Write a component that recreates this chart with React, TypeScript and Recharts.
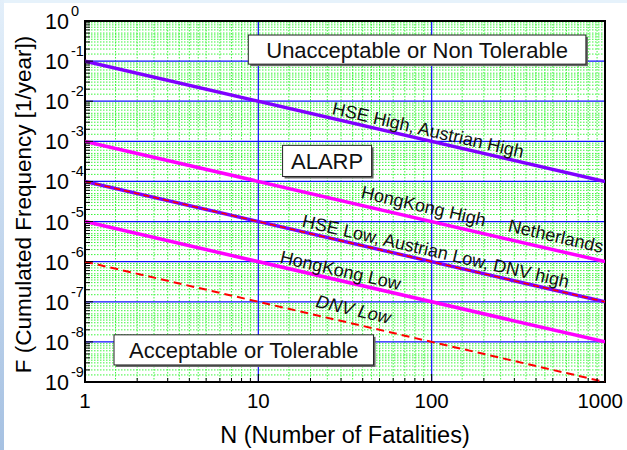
import React from 'react';
import {
  ComposedChart,
  Line,
  XAxis,
  YAxis,
  CartesianGrid,
  ReferenceArea,
  ReferenceDot,
} from 'recharts';

// ---------- data ----------
const xMajorTicks = [1, 10, 100, 1000];
const yMajorTicks = [1e-9, 1e-8, 1e-7, 1e-6, 1e-5, 1e-4, 1e-3, 1e-2, 1e-1, 1e0];
const tickMultipliers = [2, 3, 4, 5, 6, 7, 8, 9];
const gridMultipliers = [1.5, 2, 2.5, 3, 3.5, 4, 4.5, 5, 6, 7, 8, 9];

const hseHigh = [
  { n: 1, f: 1e-1 },
  { n: 1000, f: 1e-4 },
];
const hongKongHigh = [
  { n: 1, f: 1e-3 },
  { n: 1000, f: 1e-6 },
];
const hseLow = [
  { n: 1, f: 1e-4 },
  { n: 1000, f: 1e-7 },
];
const dnvHigh = [
  { n: 1, f: 1e-4 },
  { n: 1000, f: 1e-7 },
];
const hongKongLow = [
  { n: 1, f: 1e-5 },
  { n: 1000, f: 1e-8 },
];
const dnvLow = [
  { n: 1, f: 1e-6 },
  { n: 1000, f: 1e-9 },
];

const lineLabels = [
  { text: 'HSE High, Austrian High', n: 95.5, f: 1.9e-3, italic: false },
  { text: 'HongKong High', n: 89.9, f: 2.4e-5, italic: false },
  { text: 'Netherlands', n: 520, f: 4.3e-6, italic: false },
  { text: 'HSE Low, Austrian Low, DNV high', n: 105.5, f: 1.8e-6, italic: false },
  { text: 'HongKong Low', n: 29.8, f: 6.0e-7, italic: false },
  { text: 'DNV Low', n: 35.4, f: 6.4e-8, italic: true },
];

const zoneBoxes = [
  { text: 'Unacceptable or Non Tolerable', n1: 8.75, n2: 776, f1: 0.0841, f2: 0.447 },
  { text: 'ALARP', n1: 13.8, n2: 45.0, f1: 1.33e-4, f2: 7.94e-4 },
  { text: 'Acceptable or Tolerable', n1: 1.47, n2: 46.2, f1: 2.66e-9, f2: 1.5e-8 },
];

const xTitle = 'N (Number of Fatalities)';
const yTitle = 'F (Cumulated Frequency [1/year])';

// ---------- derived tick / grid lists ----------
const decadesX = xMajorTicks.slice(0, -1);
const decadesY = yMajorTicks.slice(0, -1);
const xAllTicks = [...xMajorTicks, ...decadesX.flatMap((d) => tickMultipliers.map((m) => d * m))];
const yAllTicks = [...yMajorTicks, ...decadesY.flatMap((d) => tickMultipliers.map((m) => d * m))];
const xGridMinor = decadesX.flatMap((d) => gridMultipliers.map((m) => d * m));
const yGridMinor = decadesY.flatMap((d) => gridMultipliers.map((m) => d * m));
const xMajorSet = new Set(xMajorTicks);
const yMajorSet = new Set(yMajorTicks);
const xLastTick = xMajorTicks[xMajorTicks.length - 1];

const FONT = '"Liberation Sans", Arial, Helvetica, sans-serif';

const YTick = (props: any) => {
  const { x, y, payload } = props;
  const v = payload.value;
  const major = yMajorSet.has(v);
  const len = major ? 8 : 5;
  const exp = Math.round(Math.log10(v));
  return (
    <g>
      <line x1={x} y1={y} x2={x + len} y2={y} stroke="#000" strokeWidth={1} />
      {major && (
        <g fontFamily={FONT} fill="#000">
          <text x={x - 16} y={y + 1} textAnchor="end" dominantBaseline="central" fontSize={21.5}>
            10
          </text>
          <text x={x - 14} y={y - 10} textAnchor="start" dominantBaseline="central" fontSize={14.5}>
            {String(exp)}
          </text>
        </g>
      )}
    </g>
  );
};

const XTick = (props: any) => {
  const { x, y, payload } = props;
  const v = payload.value;
  const major = xMajorSet.has(v);
  const len = major ? 8 : 4;
  const isLast = v === xLastTick;
  return (
    <g>
      <line x1={x} y1={y} x2={x} y2={y - len} stroke="#000" strokeWidth={1} />
      {major && (
        <text
          x={isLast ? x + 18 : x}
          y={y + 18}
          textAnchor={isLast ? 'end' : 'middle'}
          dominantBaseline="central"
          fontSize={20.5}
          fontFamily={FONT}
          fill="#000"
        >
          {String(v)}
        </text>
      )}
    </g>
  );
};

const makeLabelShape = (lab: { text: string; italic: boolean }) => (props: any) => {
  const { cx, cy } = props;
  return (
    <text
      x={cx}
      y={cy}
      transform={`rotate(13 ${cx} ${cy})`}
      textAnchor="middle"
      dominantBaseline="central"
      fontSize={18}
      fontFamily={FONT}
      fontStyle={lab.italic ? 'italic' : 'normal'}
      fill="#111"
    >
      {lab.text}
    </text>
  );
};

const makeBoxShape = (text: string) => (props: any) => {
  const { x, y, width, height } = props;
  return (
    <g>
      <rect x={x + 2} y={y + 2} width={width} height={height} fill="#666" />
      <rect x={x} y={y} width={width} height={height} fill="#fff" stroke="#222" strokeWidth={1} />
      <text
        x={x + width / 2}
        y={y + height / 2 + 1}
        textAnchor="middle"
        dominantBaseline="central"
        fontSize={22}
        fontFamily={FONT}
        fill="#111"
      >
        {text}
      </text>
    </g>
  );
};

export default function App() {
  return (
    <div
      style={{
        position: 'absolute',
        left: 0,
        top: 0,
        width: 627,
        height: 450,
        background: '#fff',
        fontFamily: FONT,
        overflow: 'hidden',
      }}
    >
      <div style={{ position: 'absolute', left: 0, top: 0, width: 627, height: 3, background: '#e6f2fb' }} />
      <div
        style={{
          position: 'absolute',
          left: 0,
          top: 0,
          width: 4,
          height: 450,
          background: 'linear-gradient(to bottom, #e3effa, #a6c1e2)',
        }}
      />
      <div style={{ position: 'absolute', left: 0, top: 0 }}>
        <ComposedChart width={627} height={450} margin={{ top: 21, right: 22, left: 0, bottom: 0 }}>
          <XAxis
            dataKey="n"
            type="number"
            scale="log"
            domain={[1, 1000]}
            allowDataOverflow
            ticks={xAllTicks}
            interval={0}
            tickSize={0}
            tickMargin={0}
            tickLine={false}
            axisLine={false}
            height={68}
            tick={<XTick />}
            label={(p: any) => {
              const vb = p.viewBox;
              return (
                <text
                  x={vb.x + vb.width / 2}
                  y={vb.y + 53}
                  textAnchor="middle"
                  dominantBaseline="central"
                  fontSize={23.5}
                  fontFamily={FONT}
                  fill="#000"
                >
                  {xTitle}
                </text>
              );
            }}
          />
          <YAxis
            type="number"
            scale="log"
            domain={[1e-9, 1]}
            allowDataOverflow
            ticks={yAllTicks}
            interval={0}
            tickSize={0}
            tickMargin={0}
            tickLine={false}
            axisLine={false}
            width={85}
            tick={<YTick />}
            label={(p: any) => {
              const vb = p.viewBox;
              const cx = vb.x + 23;
              const cy = vb.y + vb.height / 2 + 3;
              return (
                <text
                  x={cx}
                  y={cy}
                  transform={`rotate(-90 ${cx} ${cy})`}
                  textAnchor="middle"
                  dominantBaseline="central"
                  fontSize={22.5}
                  fontFamily={FONT}
                  fill="#000"
                >
                  {yTitle}
                </text>
              );
            }}
          />
          <CartesianGrid
            horizontalValues={yGridMinor}
            verticalValues={xGridMinor}
            stroke="#3cf53c"
            strokeDasharray="1.5 1.5"
            strokeWidth={1}
          />
          <CartesianGrid
            horizontalValues={yMajorTicks}
            verticalValues={xMajorTicks}
            stroke="#1010ff"
            strokeWidth={1.2}
          />
          {zoneBoxes.map((b) => (
            <ReferenceArea
              key={b.text}
              x1={b.n1}
              x2={b.n2}
              y1={b.f1}
              y2={b.f2}
              shape={makeBoxShape(b.text)}
            />
          ))}
          <Line data={hseHigh} dataKey="f" stroke="#8000ff" strokeWidth={3.5} dot={false} isAnimationActive={false} />
          <Line data={hongKongHigh} dataKey="f" stroke="#ff00ff" strokeWidth={3.5} dot={false} isAnimationActive={false} />
          <Line data={hseLow} dataKey="f" stroke="#8000ff" strokeWidth={3.5} dot={false} isAnimationActive={false} />
          <Line
            data={dnvHigh}
            dataKey="f"
            stroke="#ff0000"
            strokeWidth={1.5}
            strokeDasharray="6 4"
            dot={false}
            isAnimationActive={false}
          />
          <Line data={hongKongLow} dataKey="f" stroke="#ff00ff" strokeWidth={3.5} dot={false} isAnimationActive={false} />
          <Line
            data={dnvLow}
            dataKey="f"
            stroke="#ff0000"
            strokeWidth={2}
            strokeDasharray="8 5"
            dot={false}
            isAnimationActive={false}
          />
          {lineLabels.map((lab) => (
            <ReferenceDot key={lab.text} x={lab.n} y={lab.f} r={1} shape={makeLabelShape(lab)} />
          ))}
          <ReferenceArea x1={1} x2={1000} y1={1e-9} y2={1} fill="none" fillOpacity={0} stroke="#000" strokeWidth={2} />
        </ComposedChart>
      </div>
    </div>
  );
}
